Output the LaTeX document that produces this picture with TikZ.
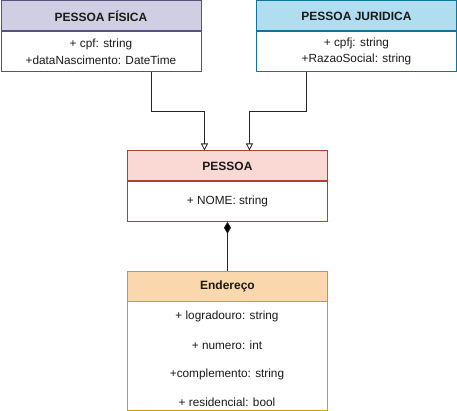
\documentclass[tikz,border=0pt]{standalone}
\usepackage{fontspec}
\setmainfont{Liberation Sans}
\usetikzlibrary{arrows.meta}
\definecolor{fisB}{HTML}{56517E}\definecolor{fisF}{HTML}{D0CEE2}
\definecolor{jurB}{HTML}{10739E}\definecolor{jurF}{HTML}{B1DDF0}
\definecolor{pesB}{HTML}{AE4132}\definecolor{pesF}{HTML}{FAD9D5}
\definecolor{endB}{HTML}{D79B00}\definecolor{endF}{HTML}{FAD7AC}
\definecolor{txt}{HTML}{1A1A1A}
\tikzset{
  hdr/.style={draw=#1, line width=0.9pt, minimum width=200pt, minimum height=30pt, inner sep=0pt, font=\fontsize{12}{14}\selectfont\bfseries, text=txt, anchor=north west},
  bdy/.style={draw=#1, line width=0.9pt, fill=white, minimum width=200pt, inner sep=0pt, anchor=north west},
  item/.style={font=\fontsize{11.8}{16.5}\selectfont, text=txt, align=center, inner sep=0pt},
  conn/.style={draw=black!85, line width=0.8pt},
}
\begin{document}
\begin{tikzpicture}[x=1pt,y=-1pt]
\useasboundingbox (0,0) rectangle (457,411);
% PESSOA FISICA
\node[hdr=fisB, fill=fisF] (fish) at (0.5,0.5) {PESSOA FÍSICA};
\node[bdy=fisB, minimum height=39.5pt] (fisb) at (fish.south west) {};
\node[item] (fist) at (fisb.center) {+ cpf: string\\+dataNascimento: DateTime};
% PESSOA JURIDICA
\node[hdr=jurB, fill=jurF] (jurh) at (256,0.5) {PESSOA JURIDICA};
\node[bdy=jurB, minimum height=39.5pt] (jurb) at (jurh.south west) {};
\node[item] (jurt) at (jurb.center) {+ cpfj: string\\+RazaoSocial: string};
% PESSOA
\node[hdr=pesB, fill=pesF] (pesh) at (127,150.5) {PESSOA};
\node[bdy=pesB, minimum height=39.5pt] (pesb) at (pesh.south west) {};
\node[item] (pest) at (pesb.center) {+ NOME: string};
% Endereco
\node[hdr=endB, fill=endF] (endh) at (127,270.5) {Endereço};
\node[bdy=endB, minimum height=108.5pt] (endb) at (endh.south west) {};
\node[item] (e1) at (227,316.5) {+ logradouro: string};
\node[item] (e2) at (227,345.5) {+ numero: int};
\node[item] (e3) at (227,374.5) {+complemento: string};
\node[item] (e4) at (227,402.5) {+ residencial: bool};
% connectors
\draw[conn, -{Triangle[open,width=7pt,length=7pt]}] ([xshift=50pt]fisb.south) -- ++(0,40) -| ([xshift=-23pt]pesh.north);
\draw[conn, -{Triangle[open,width=7pt,length=7pt]}] ([xshift=-50pt]jurb.south) -- ++(0,40) -| ([xshift=22pt]pesh.north);
\draw[conn, {Diamond[width=7pt,length=12pt,fill=black]}-] (pesb.south) -- (endh.north);
\end{tikzpicture}
\end{document}
